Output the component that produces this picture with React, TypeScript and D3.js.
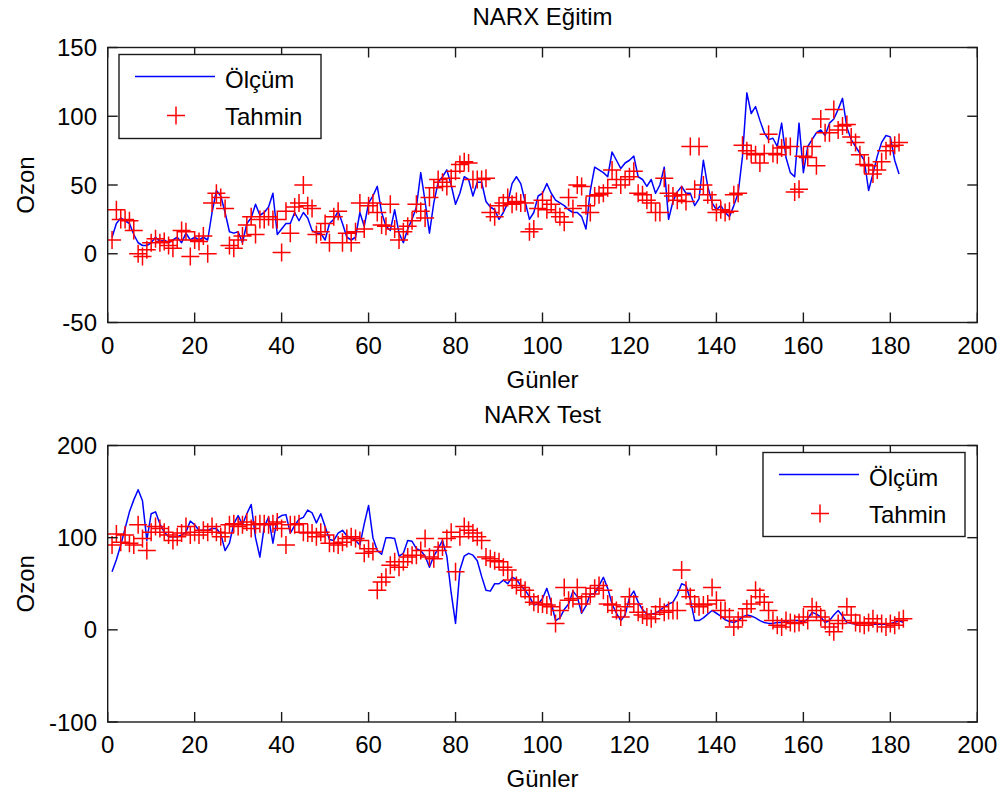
import React from 'react';
import * as d3 from 'd3';

// NARX Eğitim (training) — days 1..182
const trainMeasured = [
  12, 22, 26, 24, 22, 14, 8, 6, 6, 8,
  12, 9, 10, 8, 10, 12, 8, 15, 10, 12,
  10, 12, 10, 30, 46, 42, 30, 16, 15, 16,
  8, 22, 26, 36, 28, 30, 34, 44, 14, 18,
  22, 22, 30, 24, 30, 26, 17, 15, 15, 10,
  22, 25, 31, 22, 12, 10, 12, 30, 20, 37,
  42, 49, 30, 20, 17, 32, 15, 8, 18, 25,
  34, 59, 38, 15, 37, 52, 56, 61, 50, 36,
  44, 56, 54, 42, 52, 52, 38, 34, 32, 25,
  30, 37, 51, 56, 51, 38, 25, 30, 42, 44,
  51, 44, 39, 37, 35, 32, 30, 30, 27, 18,
  46, 63, 61, 59, 56, 74, 68, 62, 66, 68,
  71, 56, 54, 49, 54, 44, 50, 63, 25, 38,
  45, 49, 44, 44, 35, 40, 68, 49, 37, 32,
  35, 30, 27, 35, 44, 71, 117, 102, 107, 97,
  88, 83, 84, 78, 95, 70, 59, 56, 95, 59,
  78, 83, 88, 90, 86, 95, 98, 105, 113, 92,
  83, 78, 73, 68, 46, 58, 71, 81, 86, 85,
  68, 58,
];

const trainPredicted = [
  10, 32, 25, 25, 24, 17, 0, -2, 3, 8,
  11, 8, 9, 6, 4, 10, 17, 16, -2, 10,
  9, 13, 0, 37, 44, 41, 33, 6, 4, 10,
  13, 21, 27, 14, 25, 25, 27, 25, 25, 1,
  31, 15, 34, 37, 50, 35, 33, 14, 16, 22,
  8, 27, 31, 8, 15, 8, 16, 37, 18, 35,
  37, 30, 21, 20, 36, 18, 10, 16, 20, 24,
  36, 31, 26, 41, 48, 54, 52, 49, 55, 60,
  65, 67, 66, 54, 54, 54, 55, 30, 27, 35,
  37, 41, 36, 38, 37, 37, 16, 18, 33, 39,
  32, 36, 30, 27, 23, 41, 33, 50, 49, 35,
  30, 42, 43, 44, 48, 61, 54, 50, 54, 56,
  60, 44, 43, 39, 37, 30, 30, 55, 44, 42,
  39, 43, 38, 78, 47, 78, 50, 43, 39, 30,
  32, 30, 31, 43, 44, 79, 75, 73, 72, 66,
  73, 87, 73, 72, 77, 78, 78, 45, 47, 71,
  70, 78, 64, 98, 88, 88, 105, 90, 93, 94,
  85, 81, 72, 65, 64, 58, 61, 67, 75, 78,
  79, 81,
];

// NARX Test — days 1..183
const testMeasured = [
  63, 76, 92, 110, 128, 141, 152, 140, 97, 126,
  128, 115, 106, 101, 101, 101, 103, 106, 118, 114,
  108, 108, 108, 110, 110, 104, 86, 94, 115, 124,
  114, 126, 136, 100, 79, 112, 122, 94, 121, 124,
  125, 105, 113, 120, 122, 130, 127, 116, 126, 112,
  98, 97, 105, 108, 102, 100, 97, 92, 115, 135,
  100, 86, 82, 100, 100, 99, 80, 83, 97, 96,
  88, 86, 80, 68, 80, 88, 97, 80, 40, 7,
  65, 80, 83, 81, 75, 58, 43, 42, 50, 50,
  54, 50, 57, 55, 48, 43, 36, 27, 28, 34,
  45, 30, 10, 13, 22, 28, 42, 36, 18, 26,
  39, 39, 48, 57, 45, 28, 18, 10, 16, 35,
  42, 30, 22, 17, 17, 18, 21, 25, 28, 30,
  38, 50, 48, 33, 10, 10, 13, 17, 21, 18,
  15, 11, 9, 8, 10, 14, 16, 15, 13, 10,
  8, 7, 7, 8, 8, 9, 10, 10, 10, 8,
  12, 19, 17, 14, 8, 10, 16, 21, 15, 8,
  7, 6, 7, 8, 7, 6, 6, 6, 6, 7,
  8, 10, 8,
];

const testPredicted = [
  92, 104, 95, 103, 94, 92, 114, 99, 86, 106,
  112, 110, 106, 103, 97, 101, 105, 112, 103, 106,
  103, 108, 106, 112, 106, 101, 105, 114, 115, 112,
  114, 117, 110, 114, 115, 115, 114, 115, 117, 110,
  92, 114, 114, 115, 106, 105, 105, 101, 106, 103,
  94, 94, 92, 95, 99, 101, 99, 97, 83, 88,
  85, 43, 52, 57, 70, 74, 68, 74, 79, 81,
  81, 86, 99, 79, 77, 86, 90, 99, 106, 63,
  101, 112, 108, 105, 101, 97, 79, 77, 75, 74,
  68, 65, 54, 48, 46, 43, 36, 30, 28, 28,
  27, 25, 7, 21, 46, 32, 34, 46, 28, 36,
  39, 45, 48, 43, 28, 27, 21, 14, 25, 36,
  28, 19, 16, 14, 12, 17, 25, 19, 21, 21,
  21, 65, 43, 36, 28, 25, 27, 28, 46, 32,
  21, 21, 14, 3, 10, 14, 23, 28, 43, 36,
  30, 21, 10, 5, 3, 10, 8, 7, 8, 14,
  10, 25, 21, 14, 10, 3, -2, 7, 10, 25,
  16, 8, 7, 5, 8, 12, 7, 7, 3, 7,
  5, 10, 12,
];

const xTicks = [0, 20, 40, 60, 80, 100, 120, 140, 160, 180, 200];
const trainYTicks = [-50, 0, 50, 100, 150];
const testYTicks = [-100, 0, 100, 200];
const legendLabels = ['Ölçüm', 'Tahmin'];

const W = 1004;
const H = 794;
const LEFT = 107.7;
const RIGHT = 977.3;
const FONT = "'Liberation Sans', Arial, Helvetica, sans-serif";
const FS = 24;
const AXIS = '#1a1a1a';

type PanelProps = {
  top: number;
  bottom: number;
  yDomain: [number, number];
  yTicks: number[];
  measured: number[];
  predicted: number[];
  title: string;
  legendLeft: number;
};

function plusPath(pts: [number, number][], r: number) {
  return pts.map(([cx, cy]) => `M${cx - r},${cy}h${2 * r}M${cx},${cy - r}v${2 * r}`).join('');
}

function Panel({ top, bottom, yDomain, yTicks, measured, predicted, title, legendLeft }: PanelProps) {
  const x = d3.scaleLinear().domain([0, 200]).range([LEFT, RIGHT]);
  const y = d3.scaleLinear().domain(yDomain).range([bottom, top]);
  const line = d3
    .line<number>()
    .x((_, i) => x(i + 1))
    .y((d) => y(d));
  const pts: [number, number][] = predicted.map((d, i) => [x(i + 1), y(d)]);
  const midY = (top + bottom) / 2;
  const midX = (LEFT + RIGHT) / 2;
  const tl = 10;
  const lgTop = top + 7;
  const lgW = 202;
  const lgH = 84;
  return (
    <g>
      <clipPath id={`clip${top}`}>
        <rect x={LEFT} y={top} width={RIGHT - LEFT} height={bottom - top} />
      </clipPath>
      <g clipPath={`url(#clip${top})`}>
        <path d={line(measured) || ''} fill="none" stroke="#0000ff" strokeWidth={1.5} strokeLinejoin="round" />
        <path d={plusPath(pts, 9)} fill="none" stroke="#ff0000" strokeWidth={1.5} />
      </g>
      <rect x={LEFT} y={top} width={RIGHT - LEFT} height={bottom - top} fill="none" stroke={AXIS} strokeWidth={1.4} />
      {xTicks.map((t) => (
        <g key={`x${t}`}>
          <line x1={x(t)} x2={x(t)} y1={bottom} y2={bottom - tl} stroke={AXIS} strokeWidth={1.4} />
          <line x1={x(t)} x2={x(t)} y1={top} y2={top + tl} stroke={AXIS} strokeWidth={1.4} />
          <text x={x(t)} y={bottom + 31} textAnchor="middle" fontSize={FS} fontFamily={FONT} fill="#000">
            {t}
          </text>
        </g>
      ))}
      {yTicks.map((t) => (
        <g key={`y${t}`}>
          <line x1={LEFT} x2={LEFT + tl} y1={y(t)} y2={y(t)} stroke={AXIS} strokeWidth={1.4} />
          <line x1={RIGHT} x2={RIGHT - tl} y1={y(t)} y2={y(t)} stroke={AXIS} strokeWidth={1.4} />
          <text x={97} y={y(t) + 8.5} textAnchor="end" fontSize={FS} fontFamily={FONT} fill="#000">
            {t}
          </text>
        </g>
      ))}
      <text x={midX} y={top - 23} textAnchor="middle" fontSize={FS} fontFamily={FONT} fill="#000">
        {title}
      </text>
      <text x={midX} y={bottom + 65} textAnchor="middle" fontSize={FS} fontFamily={FONT} fill="#000">
        Günler
      </text>
      <text
        transform={`translate(34,${midY}) rotate(-90)`}
        textAnchor="middle"
        fontSize={FS}
        fontFamily={FONT}
        fill="#000"
      >
        Ozon
      </text>
      <g>
        <rect x={legendLeft} y={lgTop} width={lgW} height={lgH} fill="#fff" stroke={AXIS} strokeWidth={1.4} />
        <line x1={legendLeft + 16} x2={legendLeft + 96} y1={lgTop + 22} y2={lgTop + 22} stroke="#0000ff" strokeWidth={1.5} />
        <path d={plusPath([[legendLeft + 57, lgTop + 61]], 9)} stroke="#ff0000" strokeWidth={1.5} fill="none" />
        <text x={legendLeft + 106} y={lgTop + 33} fontSize={FS} fontFamily={FONT} fill="#000">
          {legendLabels[0]}
        </text>
        <text x={legendLeft + 106} y={lgTop + 70} fontSize={FS} fontFamily={FONT} fill="#000">
          {legendLabels[1]}
        </text>
      </g>
    </g>
  );
}

export default function App() {
  return (
    <svg
      width={W}
      height={H}
      viewBox={`0 0 ${W} ${H}`}
      style={{ position: 'absolute', left: 0, top: 0, background: '#fff' }}
    >
      <rect x={0} y={0} width={W} height={H} fill="#fff" />
      <Panel
        top={47.5}
        bottom={322.5}
        yDomain={[-50, 150]}
        yTicks={trainYTicks}
        measured={trainMeasured}
        predicted={trainPredicted}
        title="NARX Eğitim"
        legendLeft={119}
      />
      <Panel
        top={445.5}
        bottom={722}
        yDomain={[-100, 200]}
        yTicks={testYTicks}
        measured={testMeasured}
        predicted={testPredicted}
        title="NARX Test"
        legendLeft={763}
      />
    </svg>
  );
}
